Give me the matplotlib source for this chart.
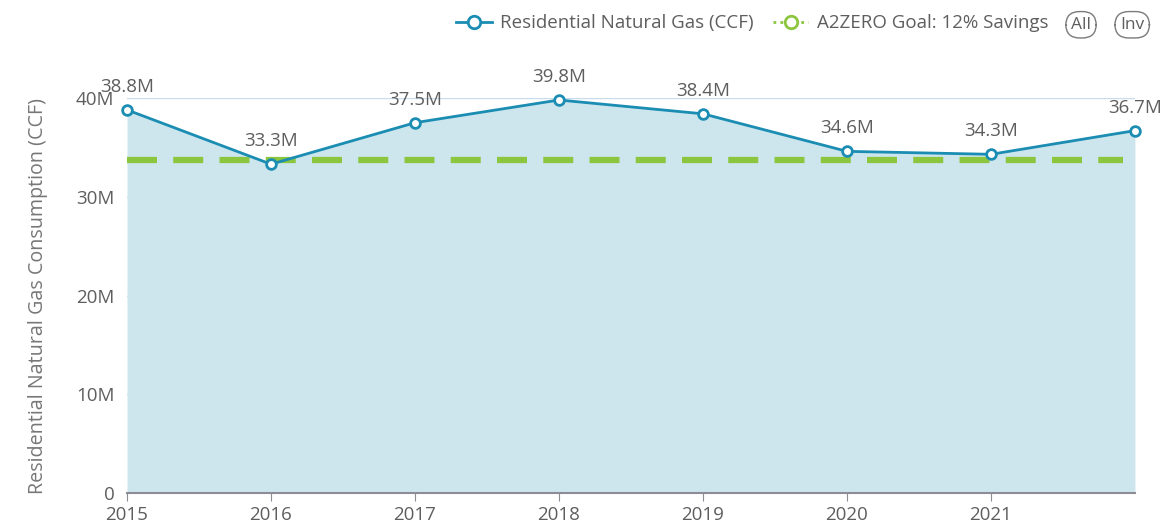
import matplotlib.pyplot as plt
from matplotlib.lines import Line2D
from matplotlib.ticker import FuncFormatter

plt.rcParams['font.family'] = ['Open Sans', 'DejaVu Sans']

years = [2015, 2016, 2017, 2018, 2019, 2020, 2021, 2022]
gas = [38.8, 33.3, 37.5, 39.8, 38.4, 34.6, 34.3, 36.7]  # million CCF
goal = 33.7
tick_years = [2015, 2016, 2017, 2018, 2019, 2020, 2021]

line_col = '#1b8db3'
fill_col = '#cde6ee'
goal_col = '#8cc63f'
text_col = '#5e5e5e'
grid_col = '#c9dceb'

fig = plt.figure(figsize=(11.63, 5.27), dpi=100)
ax = fig.add_axes([0.1092, 0.0645, 0.8667, 0.7495])

ax.fill_between(years, gas, 0, color=fill_col, lw=0, zorder=1)
ax.axhline(goal, xmin=0, xmax=0.988, color=goal_col, lw=4.5, ls=(0, (4.8, 2.6)), zorder=2)
ax.plot(years, gas, color=line_col, lw=2, marker='o', ms=7, mfc='white',
        mec=line_col, mew=2, zorder=3, clip_on=False)

for x, v in zip(years, gas):
    ax.annotate(f'{v}M', (x, v), xytext=(0, 10), textcoords='offset points',
                ha='center', va='bottom', fontsize=13.5, color=text_col)

ax.set_xlim(2015, 2022)
ax.set_ylim(0, 40)
ax.set_yticks([0, 10, 20, 30, 40])
ax.yaxis.set_major_formatter(FuncFormatter(lambda v, p: '0' if v == 0 else f'{int(v)}M'))
ax.set_xticks(tick_years)
ax.grid(axis='y', color=grid_col, lw=1, zorder=0)
ax.set_axisbelow(True)
for s in ['top', 'right', 'left']:
    ax.spines[s].set_visible(False)
ax.spines['bottom'].set_color('#8c8c94')
ax.spines['bottom'].set_linewidth(1.5)
ax.tick_params(axis='y', length=0, labelsize=13.5, labelcolor=text_col, pad=9)
ax.tick_params(axis='x', length=6, color='#8c8c94', labelsize=13.5, labelcolor=text_col, pad=3)
ax.set_ylabel('Residential Natural Gas Consumption (CCF)', fontsize=14.2, color='#777777', labelpad=20)

handles = [
    Line2D([], [], color=line_col, lw=2, marker='o', ms=9, mfc='white', mec=line_col, mew=2),
    Line2D([], [], color=goal_col, lw=2, ls=(0, (1, 1.5)), marker='o', ms=9, mfc='white', mec=goal_col, mew=2),
]
fig.legend(handles, ['Residential Natural Gas (CCF)', 'A2ZERO Goal: 12% Savings'],
           loc='center right', bbox_to_anchor=(0.916, 0.956), ncol=2, frameon=False,
           fontsize=13.5, labelcolor=text_col, handlelength=1.9, handletextpad=0.45, columnspacing=1.0)

for label, xpos in [('All', 0.9295), ('Inv', 0.9735)]:
    fig.text(xpos, 0.953, label, ha='center', va='center', fontsize=12.5, color=text_col,
             bbox=dict(boxstyle='round,pad=0.3,rounding_size=0.8', fc='white', ec='#7a7a7a', lw=1))

fig.savefig('out.png', dpi=100)
